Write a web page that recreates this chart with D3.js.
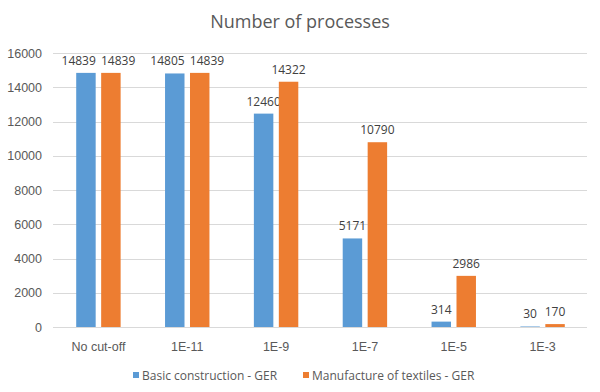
<!DOCTYPE html>
<html>
<head>
<meta charset="utf-8">
<script src="https://cdn.jsdelivr.net/npm/d3@7"></script>
<style>
  body { margin: 0; background: #fff; }
  svg { font-family: "Open Sans", "Noto Sans", sans-serif; }
</style>
</head>
<body>
<script>
// data
var categories = ["No cut-off", "1E-11", "1E-9", "1E-7", "1E-5", "1E-3"];
var seriesNames = ["Basic construction - GER", "Manufacture of textiles - GER"];
var basicConstruction = [14839, 14805, 12460, 5171, 314, 30];
var textiles = [14839, 14839, 14322, 10790, 2986, 170];
var yTicks = [0, 2000, 4000, 6000, 8000, 10000, 12000, 14000, 16000];
var colors = ["#5B9BD5", "#ED7D31"];

var width = 600, height = 392;
var margin = {top: 53, right: 13, bottom: 65, left: 54};

var svg = d3.select("body").append("svg")
    .attr("width", width)
    .attr("height", height);

svg.append("text")
    .attr("x", width / 2)
    .attr("y", 28)
    .attr("text-anchor", "middle")
    .attr("fill", "#595959")
    .style("font-size", "18px")
    .text("Number of processes");

var x = d3.scaleBand()
    .domain(categories)
    .range([margin.left, width - margin.right]);

var xInner = d3.scaleBand()
    .domain([0, 1])
    .range([0, x.bandwidth()])
    .paddingInner(0.22)
    .paddingOuter(0.89);

var y = d3.scaleLinear()
    .domain([0, 16000])
    .range([height - margin.bottom, margin.top]);

// gridlines
svg.append("g")
    .selectAll("line")
    .data(yTicks)
    .enter().append("line")
      .attr("x1", margin.left - 1)
      .attr("x2", width - margin.right)
      .attr("y1", function(d) { return Math.round(y(d)) + 0.5; })
      .attr("y2", function(d) { return Math.round(y(d)) + 0.5; })
      .attr("stroke", "#d9d9d9")
      .attr("stroke-width", 1);

// y axis labels
var yAxis = svg.append("g")
    .attr("transform", "translate(42,0)")
    .call(d3.axisLeft(y).tickValues(yTicks).tickSize(0).tickPadding(0).tickFormat(d3.format("d")));
yAxis.select(".domain").remove();
yAxis.selectAll("text")
    .attr("fill", "#595959")
    .style("font-size", "12.5px")
    .style("font-family", "inherit");

// x axis labels
var xAxis = svg.append("g")
    .attr("transform", "translate(0," + (height - margin.bottom) + ")")
    .call(d3.axisBottom(x).tickSize(0).tickPadding(15));
xAxis.select(".domain").remove();
xAxis.selectAll("text")
    .attr("fill", "#595959")
    .style("font-size", "12.5px")
    .style("font-family", "inherit");

var series = [basicConstruction, textiles];
var labels = [];

series.forEach(function(values, s) {
    var g = svg.append("g");
    g.selectAll("rect")
        .data(values)
        .enter().append("rect")
          .attr("x", function(d, i) { return x(categories[i]) + xInner(s); })
          .attr("y", function(d) { return y(d); })
          .attr("width", xInner.bandwidth())
          .attr("height", function(d) { return y(0) - y(d); })
          .attr("fill", colors[s]);

    labels[s] = g.selectAll("text")
        .data(values)
        .enter().append("text")
          .attr("x", function(d, i) { return x(categories[i]) + xInner(s) + xInner.bandwidth() / 2; })
          .attr("y", function(d) { return y(d) - 8; })
          .attr("text-anchor", "middle")
          .attr("fill", "#404040")
          .style("font-size", "12px")
          .text(function(d) { return d; });
});

// push apart data labels of a pair when they collide
var left = labels[0].nodes(), right = labels[1].nodes();
left.forEach(function(a, i) {
    var b = right[i];
    var ba = a.getBBox(), bb = b.getBBox();
    var vOverlap = ba.y < bb.y + bb.height && bb.y < ba.y + ba.height;
    var gap = bb.x - (ba.x + ba.width);
    if (vOverlap && gap < 5) {
        var shift = (5 - gap) / 2;
        a.setAttribute("x", +a.getAttribute("x") - shift);
        b.setAttribute("x", +b.getAttribute("x") + shift);
    }
});

// legend
var legend = svg.append("g")
    .attr("transform", "translate(0,378)");
var legendX = [133, 303];
seriesNames.forEach(function(name, s) {
    legend.append("rect")
        .attr("x", legendX[s])
        .attr("y", -6)
        .attr("width", 6)
        .attr("height", 6)
        .attr("fill", colors[s]);
    legend.append("text")
        .attr("x", legendX[s] + 9)
        .attr("y", 1.5)
        .attr("fill", "#595959")
        .style("font-size", "12px")
        .text(name);
});
</script>
</body>
</html>
